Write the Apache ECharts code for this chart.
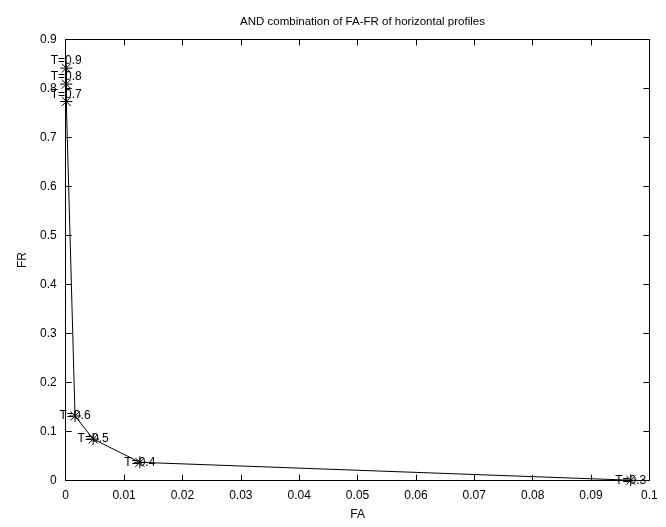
<!DOCTYPE html>
<html>
<head>
<meta charset="utf-8">
<script src="https://cdn.jsdelivr.net/npm/echarts@6/dist/echarts.min.js"></script>
<style>html,body{margin:0;padding:0;background:#fff}#c{width:666px;height:527px}</style>
</head>
<body>
<div id="c"></div>
<script>
var thresholds = ['T=0.9','T=0.8','T=0.7','T=0.6','T=0.5','T=0.4','T=0.3'];
var faValues = [0.0001, 0.0001, 0.0001, 0.0016, 0.0047, 0.0127, 0.0968];
var frValues = [0.8416, 0.809, 0.7735, 0.132, 0.085, 0.0375, 0.001];
var xTicks = [0, 0.01, 0.02, 0.03, 0.04, 0.05, 0.06, 0.07, 0.08, 0.09, 0.1];
var yTicks = [0, 0.1, 0.2, 0.3, 0.4, 0.5, 0.6, 0.7, 0.8, 0.9];

var FONT = '"Liberation Sans", Arial, sans-serif';
var chart = echarts.init(document.getElementById('c'), null, {renderer: 'canvas'});
var star = 'path://M0,-1L0,1M-1,0L1,0M-0.75,-0.75L0.75,0.75M-0.75,0.75L0.75,-0.75';

var data = faValues.map(function (fa, i) {
  return {
    value: [fa, frValues[i]],
    name: thresholds[i],
    label: {offset: [0, frValues[i] > 0.5 ? -7 : 0]}
  };
});

function fmt(v) { return String(+v.toFixed(2)); }

var baseAxis = {
  axisLine: {show: true, onZero: false, lineStyle: {color: '#000', width: 1}},
  axisTick: {show: true, inside: true, length: 6, lineStyle: {color: '#000', width: 1}},
  splitLine: {show: false}
};

chart.setOption({
  animation: false,
  backgroundColor: '#fff',
  title: {
    text: 'AND combination of FA-FR of horizontal profiles',
    left: 357.5, textAlign: 'center', top: 11,
    textStyle: {fontFamily: FONT, fontSize: 11.5, fontWeight: 'normal', color: '#000'}
  },
  grid: {left: 65.7, right: 16.6, top: 39.5, bottom: 46.3},
  xAxis: [
    Object.assign({}, baseAxis, {
      type: 'value', min: xTicks[0], max: xTicks[xTicks.length - 1], interval: 0.01,
      position: 'bottom',
      name: 'FA', nameLocation: 'middle', nameGap: 28,
      nameTextStyle: {fontFamily: FONT, fontSize: 12, color: '#000'},
      axisLabel: {show: true, margin: 9, color: '#000', fontFamily: FONT, fontSize: 12, formatter: fmt}
    }),
    Object.assign({}, baseAxis, {
      type: 'value', min: xTicks[0], max: xTicks[xTicks.length - 1], interval: 0.01,
      position: 'top', axisLabel: {show: false}
    })
  ],
  yAxis: [
    Object.assign({}, baseAxis, {
      type: 'value', min: yTicks[0], max: yTicks[yTicks.length - 1], interval: 0.1,
      position: 'left',
      name: 'FR', nameLocation: 'middle', nameGap: 37, nameRotate: 90,
      nameTextStyle: {fontFamily: FONT, fontSize: 12, color: '#000'},
      axisLabel: {show: true, margin: 9, color: '#000', fontFamily: FONT, fontSize: 12, formatter: fmt}
    }),
    Object.assign({}, baseAxis, {
      type: 'value', min: yTicks[0], max: yTicks[yTicks.length - 1], interval: 0.1,
      position: 'right', axisLabel: {show: false}
    })
  ],
  series: [{
    type: 'line',
    xAxisIndex: 0, yAxisIndex: 0,
    data: data,
    symbol: star,
    symbolSize: 12,
    showAllSymbol: true,
    lineStyle: {color: '#000', width: 1},
    itemStyle: {color: 'none', borderColor: '#000', borderWidth: 1},
    label: {
      show: true, position: 'inside',
      formatter: function (p) { return p.name; },
      color: '#000', fontFamily: FONT, fontSize: 12
    },
    emphasis: {disabled: true}
  }]
});
</script>
</body>
</html>
